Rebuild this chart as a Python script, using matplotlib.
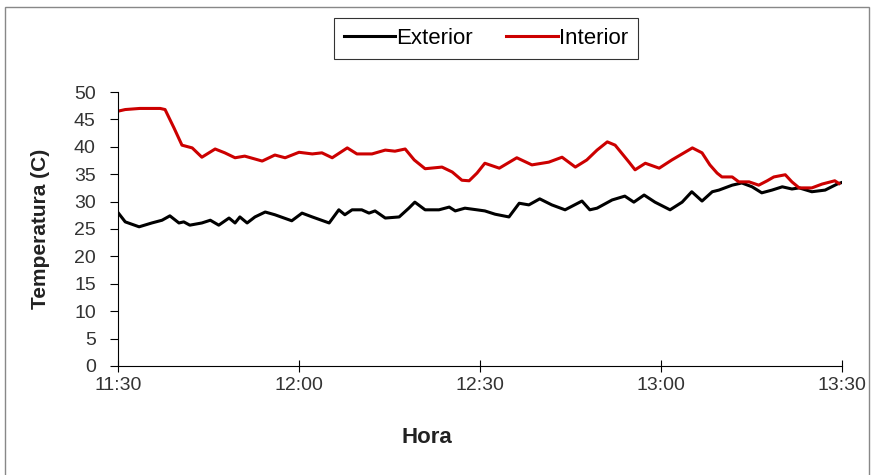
import numpy as np
import matplotlib.pyplot as plt
from matplotlib.patches import Rectangle

# minutos desde las 11:30
t_int = [0, 1.2, 3.6, 7.0, 7.8, 9.3, 10.6, 12.3, 13.9, 16.1, 17.7, 19.4, 21.0, 23.9, 26.0,
         27.7, 30.0, 32.2, 33.8, 35.5, 38.0, 39.6, 42.1, 44.3, 45.9, 47.6, 49.1, 50.9, 53.7,
         55.4, 57.0, 58.2, 59.5, 60.8, 63.2, 66.1, 68.6, 71.4, 73.6, 75.8, 77.7, 79.4, 81.1,
         82.4, 84.7, 85.7, 87.4, 89.7, 91.8, 95.2, 96.8, 98.1, 99.3, 100.1, 101.8, 102.9,
         104.6, 106.2, 107.6, 108.7, 110.6, 111.7, 112.9, 115.0, 116.7, 118.8, 119.5]
interior = [46.5, 46.8, 47.0, 47.0, 46.8, 43.4, 40.3, 39.8, 38.1, 39.6, 38.9, 38.0, 38.3, 37.4, 38.5,
            38.0, 39.0, 38.7, 38.9, 38.0, 39.8, 38.7, 38.7, 39.4, 39.2, 39.6, 37.6, 36.0, 36.3,
            35.4, 33.9, 33.8, 35.2, 37.0, 36.1, 38.0, 36.7, 37.2, 38.1, 36.3, 37.6, 39.4, 40.9,
            40.3, 37.2, 35.8, 37.0, 36.1, 37.6, 39.8, 38.9, 36.7, 35.2, 34.5, 34.5, 33.6,
            33.6, 33.0, 33.8, 34.5, 34.9, 33.6, 32.5, 32.5, 33.2, 33.8, 33.3]

t_ext = [0, 1.2, 3.5, 5.6, 7.3, 8.6, 10.1, 10.9, 11.9, 13.9, 15.3, 16.7, 18.4, 19.4, 20.2,
         21.4, 22.7, 24.4, 26.0, 28.8, 30.5, 32.2, 35.0, 36.6, 37.6, 38.8, 40.4, 41.6, 42.6,
         44.3, 46.6, 48.2, 49.2, 50.9, 53.2, 54.9, 55.9, 57.5, 59.5, 60.8, 62.5, 64.8, 66.5,
         68.1, 69.9, 71.9, 74.1, 76.9, 78.2, 79.4, 81.9, 84.0, 85.5, 87.2, 89.0, 91.5, 93.5,
         95.1, 96.8, 98.5, 99.6, 101.8, 103.4, 105.1, 106.7, 108.4, 110.1, 111.7, 112.9,
         115.0, 117.2, 119.2, 120.0]
exterior = [28.0, 26.3, 25.4, 26.1, 26.6, 27.4, 26.1, 26.3, 25.7, 26.1, 26.6, 25.7, 27.0, 26.1, 27.2,
            26.1, 27.2, 28.1, 27.6, 26.5, 27.9, 27.2, 26.1, 28.5, 27.6, 28.5, 28.5, 27.9, 28.3,
            27.0, 27.2, 28.8, 29.9, 28.5, 28.5, 29.0, 28.3, 28.8, 28.5, 28.3, 27.7, 27.2, 29.7,
            29.4, 30.5, 29.4, 28.5, 30.1, 28.5, 28.8, 30.3, 31.0, 29.9, 31.2, 29.9, 28.5, 29.9,
            31.8, 30.1, 31.8, 32.1, 33.0, 33.4, 32.7, 31.6, 32.1, 32.7, 32.3, 32.5,
            31.8, 32.1, 33.2, 33.5]

xticks = [0, 30, 60, 90, 120]
xlabels = ['11:30', '12:00', '12:30', '13:00', '13:30']

plt.rcParams['font.family'] = ['Liberation Sans', 'DejaVu Sans']

fig = plt.figure(figsize=(8.78, 4.75), dpi=100)
ax = fig.add_axes([0.1344, 0.2295, 0.8246, 0.5768])

ax.plot(t_ext, exterior, color='black', lw=2.2, label='Exterior')
ax.plot(t_int, interior, color='#cc0000', lw=2.2, label='Interior')

ax.set_xlim(0, 120)
ax.set_ylim(0, 50)
ax.set_xticks(xticks)
ax.set_xticklabels(xlabels)
ax.set_yticks(np.arange(0, 51, 5))
ax.tick_params(axis='x', direction='inout', length=8, labelsize=14, labelcolor='#333333', pad=4)
ax.tick_params(axis='y', direction='out', length=6, labelsize=14, labelcolor='#333333', pad=10)
ax.spines['top'].set_visible(False)
ax.spines['right'].set_visible(False)

ax.set_xlabel('Hora', fontsize=16, fontweight='bold', color='#222222')
ax.xaxis.set_label_coords(0.427, -0.222)
ax.set_ylabel('Temperatura (C)', fontsize=15, fontweight='bold', color='#222222')
ax.yaxis.set_label_coords(-0.094, 0.5)

leg = fig.legend(loc='center', bbox_to_anchor=(0.5535, 0.919), ncol=2, fontsize=16,
                 frameon=True, fancybox=False, handlelength=2.3, handletextpad=0.05,
                 columnspacing=1.5, borderpad=0.45, borderaxespad=0)
leg.get_frame().set_edgecolor('black')
leg.get_frame().set_linewidth(0.8)

fig.patches.append(Rectangle((5 / 878, -0.05), 864 / 878, 1 - 7 / 475 + 0.05,
                             transform=fig.transFigure, fill=False,
                             edgecolor='#888888', lw=1.0))

fig.savefig('out.png', dpi=100)
